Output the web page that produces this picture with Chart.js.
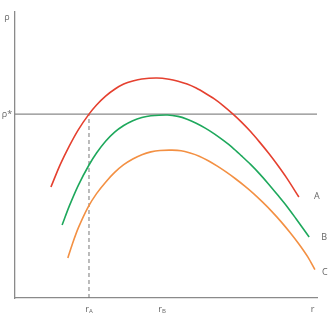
<!DOCTYPE html>
<html>
<head>
<meta charset="utf-8">
<script src="https://cdn.jsdelivr.net/npm/chart.js@4/dist/chart.umd.min.js"></script>
<style>
html,body{margin:0;padding:0;background:#fff;}
#wrap{width:329px;height:319px;}
</style>
</head>
<body>
<div id="wrap"><canvas id="c" width="329" height="319"></canvas></div>
<script>
// Curve A (red)
const curveA = [
  {x:11.9,y:38.8},{x:15,y:46.7},{x:18,y:53.2},{x:21,y:58.9},{x:24.5,y:64.3},
  {x:27,y:67.5},{x:30,y:70.6},{x:33,y:73.0},{x:36,y:74.8},{x:39,y:75.9},
  {x:42,y:76.6},{x:47,y:76.9},{x:51,y:76.5},{x:54,y:75.8},{x:57,y:74.8},
  {x:60,y:73.4},{x:63,y:71.6},{x:66,y:69.6},{x:69,y:67.2},{x:72.2,y:64.3},
  {x:75,y:61.5},{x:78,y:58.2},{x:81,y:54.5},{x:84,y:50.6},{x:87,y:46.4},
  {x:90,y:41.9},{x:94,y:35.3}
];
// Curve B (green)
const curveB = [
  {x:15.6,y:25.5},{x:18,y:32.2},{x:21,y:39.5},{x:24.5,y:46.5},{x:27,y:50.7},
  {x:30,y:54.8},{x:33,y:58.0},{x:36,y:60.3},{x:39,y:62.0},{x:42,y:63.1},
  {x:45,y:63.7},{x:50.5,y:64.0},{x:54,y:63.5},{x:57,y:62.5},{x:60,y:61.1},
  {x:63,y:59.4},{x:66,y:57.4},{x:69,y:55.1},{x:72,y:52.6},{x:75,y:49.7},
  {x:78,y:46.7},{x:81,y:43.4},{x:84,y:39.8},{x:87,y:36.0},{x:90,y:32.1},
  {x:93,y:27.8},{x:97.4,y:21.3}
];
// Curve C (orange)
const curveC = [
  {x:17.5,y:14.0},{x:19,y:18.9},{x:21,y:24.6},{x:24.2,y:31.8},{x:27,y:36.5},
  {x:30,y:40.5},{x:33,y:43.9},{x:36,y:46.6},{x:39,y:48.6},{x:42,y:50.1},
  {x:45,y:51.1},{x:48,y:51.6},{x:52,y:51.7},{x:55,y:51.5},{x:58,y:50.7},
  {x:61,y:49.6},{x:64,y:48.0},{x:67,y:46.1},{x:70,y:44.0},{x:73,y:41.7},
  {x:76,y:39.2},{x:79,y:36.5},{x:82,y:33.5},{x:85,y:30.3},{x:88,y:26.8},
  {x:91,y:23.0},{x:94,y:18.9},{x:97,y:14.3},{x:99.3,y:9.9}
];
const rhoStar = 64.3;
const rA = 24.5;
const rB = 48.7;
const rMax = 98.5;
const curveNames = ['A','B','C'];
const xTickLabels = [{v:rA, main:'r', sub:'A'},{v:rB, main:'r', sub:'B'},{v:rMax, main:'r', sub:''}];
const yTickLabels = [{v:98, text:'ρ'},{v:rhoStar, text:'ρ*'}];

const rhoLine = [{x:0,y:rhoStar},{x:100,y:rhoStar}];
const rALine = [{x:rA,y:0},{x:rA,y:rhoStar}];

const FONT = '"Open Sans", "DejaVu Sans", sans-serif';

const labelPlugin = {
  id:'labels',
  afterDatasetsDraw(chart){
    const ctx = chart.ctx;
    const xs = chart.scales.x, ys = chart.scales.y;
    ctx.save();
    ctx.fillStyle = '#666';
    ctx.textBaseline = 'middle';
    xTickLabels.forEach(t=>{
      const px = xs.getPixelForValue(t.v);
      const py = ys.bottom + 11;
      ctx.font = '9px ' + FONT;
      const w1 = ctx.measureText(t.main).width;
      ctx.font = '6px ' + FONT;
      const w2 = t.sub ? ctx.measureText(t.sub).width : 0;
      let x0 = px - (w1 + w2)/2;
      ctx.textAlign = 'left';
      ctx.font = '9px ' + FONT;
      ctx.fillText(t.main, x0, py);
      if (t.sub){
        ctx.font = '6px ' + FONT;
        ctx.fillText(t.sub, x0 + w1, py + 2);
      }
    });
    ctx.font = '9px ' + FONT;
    ctx.textAlign = 'center';
    yTickLabels.forEach(t=>{
      ctx.fillText(t.text, xs.left - 8, ys.getPixelForValue(t.v));
    });
    const offs = [[15,-1],[12,0],[7,3]];
    [curveA, curveB, curveC].forEach((c,i)=>{
      const last = c[c.length-1];
      const px = xs.getPixelForValue(last.x) + offs[i][0];
      const py = ys.getPixelForValue(last.y) + offs[i][1];
      ctx.textAlign = 'left';
      ctx.fillText(curveNames[i], px, py);
    });
    ctx.restore();
  }
};

new Chart(document.getElementById('c'), {
  type:'scatter',
  data:{
    datasets:[
      {data:rhoLine, showLine:true, borderColor:'#8a8a8a', borderWidth:1.3, pointRadius:0, order:5},
      {data:rALine, showLine:true, borderColor:'#777', borderWidth:1, borderDash:[4,3], pointRadius:0, order:5},
      {data:curveA, showLine:true, borderColor:'#e5402f', borderWidth:1.6, pointRadius:0, tension:0.3},
      {data:curveB, showLine:true, borderColor:'#1ea85c', borderWidth:1.6, pointRadius:0, tension:0.3},
      {data:curveC, showLine:true, borderColor:'#f39043', borderWidth:1.6, pointRadius:0, tension:0.3}
    ]
  },
  options:{
    responsive:false,
    animation:false,
    devicePixelRatio:1,
    layout:{padding:{left:15, top:12, right:12, bottom:21}},
    plugins:{legend:{display:false}, tooltip:{enabled:false}},
    scales:{
      x:{type:'linear', min:0, max:100,
        ticks:{display:false},
        grid:{display:false, drawTicks:false},
        border:{display:true, color:'#8a8a8a', width:1.3}},
      y:{type:'linear', min:0, max:100,
        ticks:{display:false},
        grid:{display:false, drawTicks:false},
        border:{display:true, color:'#8a8a8a', width:1.3}}
    }
  },
  plugins:[labelPlugin]
});
</script>
</body>
</html>
